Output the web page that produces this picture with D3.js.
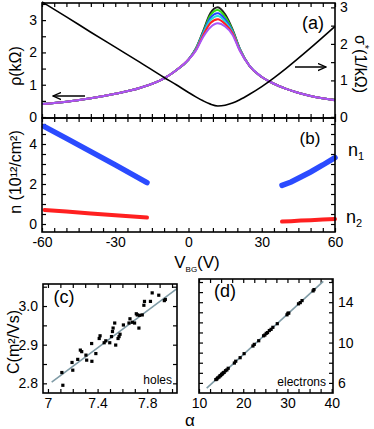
<!DOCTYPE html>
<html>
<head>
<meta charset="utf-8">
<script src="https://cdn.jsdelivr.net/npm/d3@7"></script>
<style>
body { margin: 0; background: #fff; }
svg text { font-family: "Liberation Sans", Arial, sans-serif; fill: #000; }
.axis path { stroke: none; }
.axis line { stroke: #000; stroke-width: 1.2; }
.axis text { font-size: 14px; }
.frame { fill: none; stroke: #000; stroke-width: 1.6; }
</style>
</head>
<body>
<svg id="chart" width="374" height="429"></svg>
<script>
// panel (a): gate voltage grid, sigma* (right axis) and rho curves (left axis)
let vbg = [-60, -50, -40, -30, -20, -10, -5, 0, 3, 6, 9, 12, 15, 18, 21, 25, 30, 35, 40, 50, 60];
let sigma = [3.15, 2.74, 2.32, 1.91, 1.50, 1.08, 0.88, 0.67, 0.55, 0.44, 0.35, 0.30, 0.32, 0.38, 0.47, 0.62, 0.83, 1.07, 1.33, 1.89, 2.48];

let rhoLeftV = [-60, -50, -40, -30, -20, -10, -5, 0];
let rhoLeft = [0.40, 0.47, 0.58, 0.72, 0.90, 1.20, 1.45, 1.78];
let rhoPeakV = [3, 6, 9, 12, 15, 18, 21];
let rhoRightV = [25, 30, 35, 40, 50, 60];
let rhoRight = [1.58, 1.24, 1.03, 0.87, 0.65, 0.52];

let peakBlack = [2.12, 2.66, 3.22, 3.40, 3.18, 2.72, 2.12];
let peakGreen = [2.11, 2.63, 3.15, 3.31, 3.10, 2.69, 2.11];
let peakBlue = [2.10, 2.60, 3.07, 3.21, 3.02, 2.66, 2.10];
let peakCyan = [2.09, 2.57, 3.00, 3.13, 2.95, 2.63, 2.09];
let peakRed = [2.07, 2.53, 2.91, 3.03, 2.88, 2.60, 2.07];
let peakPurple = [2.05, 2.48, 2.78, 2.90, 2.80, 2.55, 2.05];
let rhoColors = ["#222222", "#33dd11", "#2244ff", "#22dddd", "#ff2020", "#a855f7"];

// panel (b): carrier densities
let holeV = [-59, -50, -40, -30, -17];
let holeN1 = [4.87, 4.28, 3.62, 2.96, 2.07];
let holeN2 = [0.70, 0.62, 0.53, 0.44, 0.32];
let elecV = [38.3, 42, 46, 50, 55, 60];
let elecN1 = [1.93, 2.10, 2.35, 2.60, 2.95, 3.32];
let elecN2 = [0.12, 0.14, 0.17, 0.19, 0.22, 0.25];

// panel (c): holes
let alphaH = [7.12, 7.112, 7.194, 7.20, 7.24, 7.261, 7.272, 7.306, 7.312, 7.352, 7.354, 7.386, 7.413, 7.42,
    7.453, 7.466, 7.498, 7.512, 7.52, 7.525, 7.538, 7.546, 7.565, 7.573, 7.581, 7.608, 7.653, 7.661,
    7.68, 7.698, 7.712, 7.72, 7.733, 7.738, 7.76, 7.773, 7.778, 7.826, 7.84, 7.893, 7.938, 7.946];
let cH = [2.795, 2.828, 2.854, 2.834, 2.862, 2.886, 2.882, 2.873, 2.86, 2.903, 2.857, 2.877, 2.916, 2.923,
    2.905, 2.91, 2.905, 2.921, 2.934, 2.943, 2.956, 2.899, 2.916, 2.921, 2.927, 2.951, 2.956, 2.967,
    2.958, 2.956, 2.98, 2.977, 2.943, 2.976, 2.977, 3.002, 3.012, 3.012, 3.034, 3.028, 3.014, 3.017];
let fitHA = [7.03, 8.04];
let fitHC = [2.803, 3.045];

// panel (d): electrons
let alphaE = [13.8, 14.0, 14.2, 14.5, 14.7, 14.9, 15.1, 15.3, 15.5, 15.7, 16.0, 16.3, 16.6, 18.0, 18.3,
    19.3, 20.2, 22.2, 22.5, 23.5, 24.6, 24.9, 25.2, 25.5, 25.9, 26.3, 26.7, 27.7, 29.9, 30.1, 30.3,
    32.5, 32.9, 33.3, 35.8, 36.0];
let cE = [6.33, 6.37, 6.49, 6.57, 6.69, 6.73, 6.85, 6.90, 7.01, 7.05, 7.21, 7.29, 7.45, 7.97, 8.15,
    8.50, 8.90, 9.66, 9.82, 10.18, 10.67, 10.75, 10.91, 10.99, 11.19, 11.31, 11.51, 11.87, 12.75, 12.90, 12.92,
    13.84, 13.96, 14.16, 15.12, 15.25];
let fitEA = [11.74, 38.1];
let fitEC = [5.48, 16.07];

let svg = d3.select("#chart");

function frame(x0, y0, x1, y1) {
    svg.append("rect").attr("class", "frame").attr("x", x0).attr("y", y0)
        .attr("width", x1 - x0).attr("height", y1 - y0);
}

function axis(gen, tx, ty, vals, fmt) {
    let g = svg.append("g").attr("class", "axis").attr("transform", "translate(" + tx + "," + ty + ")");
    g.call(gen.tickValues(vals).tickSize(-4).tickPadding(5).tickFormat(fmt || ""));
    return g;
}

function range(a, b, s) {
    let r = [];
    for (let v = a; v <= b + 1e-9; v += s) {
        r.push(Math.round(v * 1000) / 1000);
    }
    return r;
}

// ---------- panel (a) and (b) share x ----------
let x = d3.scaleLinear().domain([-60, 60]).range([42, 335]);
let yRho = d3.scaleLinear().domain([-0.03, 3.53]).range([118, 3]);
let ySig = d3.scaleLinear().domain([-0.03, 3.12]).range([118, 3]);
let yN = d3.scaleLinear().domain([-0.4, 5.3]).range([232, 118]);

let minorV = range(-60, 60, 5);

// panel (a) axes
axis(d3.axisTop(x), 0, 3, minorV);
axis(d3.axisBottom(x), 0, 118, minorV);
axis(d3.axisLeft(yRho), 42, 0, range(0, 3.5, 0.5), d => d % 1 === 0 ? d : "");
axis(d3.axisRight(ySig), 335, 0, range(0, 3, 0.5), d => d % 1 === 0 ? d : "");

let lineA = d3.line().x(d => x(d[0])).y(d => yRho(d[1])).curve(d3.curveMonotoneX);
let peaks = [peakBlack, peakGreen, peakBlue, peakCyan, peakRed, peakPurple];
peaks.forEach(function(p, i) {
    let pts = d3.zip(rhoLeftV, rhoLeft).concat(d3.zip(rhoPeakV, p)).concat(d3.zip(rhoRightV, rhoRight));
    svg.append("path").attr("d", lineA(pts)).attr("fill", "none")
        .attr("stroke", rhoColors[i]).attr("stroke-width", 2);
});

let lineS = d3.line().x(d => x(d[0])).y(d => ySig(d[1])).curve(d3.curveMonotoneX);
svg.append("path").attr("d", lineS(d3.zip(vbg, sigma))).attr("fill", "none")
    .attr("stroke", "#000").attr("stroke-width", 1.6);

// arrows
svg.append("defs").append("marker").attr("id", "head").attr("viewBox", "0 0 10 10")
    .attr("refX", 9).attr("refY", 5).attr("markerWidth", 9).attr("markerHeight", 9)
    .attr("markerUnits", "userSpaceOnUse").attr("orient", "auto")
    .append("path").attr("d", "M0,1 L9,5 L0,9").attr("fill", "none").attr("stroke", "#000").attr("stroke-width", 1.4);
svg.append("line").attr("x1", 85).attr("y1", 96).attr("x2", 53).attr("y2", 96)
    .attr("stroke", "#000").attr("stroke-width", 1.5).attr("marker-end", "url(#head)");
svg.append("line").attr("x1", 295).attr("y1", 67).attr("x2", 326).attr("y2", 67)
    .attr("stroke", "#000").attr("stroke-width", 1.5).attr("marker-end", "url(#head)");

svg.append("text").attr("x", 313).attr("y", 29).attr("text-anchor", "middle")
    .style("font-size", "18px").text("(a)");

svg.append("text").attr("transform", "translate(21,66) rotate(-90)").attr("text-anchor", "middle")
    .style("font-size", "16px").text("ρ(kΩ)");
let st = svg.append("text").attr("transform", "translate(355,64) rotate(90)").attr("text-anchor", "middle")
    .style("font-size", "16px");
st.append("tspan").text("σ");
st.append("tspan").attr("dy", -6).style("font-size", "11px").text("*");
st.append("tspan").attr("dy", 6).text("(1/kΩ)");

frame(42, 3, 335, 118);

// panel (b)
axis(d3.axisTop(x), 0, 118, minorV);
axis(d3.axisBottom(x), 0, 232, minorV, d => d % 30 === 0 ? d : "");
axis(d3.axisLeft(yN), 42, 0, range(0, 5, 0.5), d => d % 2 === 0 ? d : "");
axis(d3.axisRight(yN), 335, 0, range(0, 5, 0.5));

let lineB = d3.line().x(d => x(d[0])).y(d => yN(d[1]));
[[holeV, holeN1, "#2b4bff", 5.5], [holeV, holeN2, "#ff2020", 4],
 [elecV, elecN1, "#2b4bff", 5.5], [elecV, elecN2, "#ff2020", 4]].forEach(function(s) {
    svg.append("path").attr("d", lineB(d3.zip(s[0], s[1]))).attr("fill", "none")
        .attr("stroke", s[2]).attr("stroke-width", s[3]).attr("stroke-linecap", "round");
});

svg.append("text").attr("x", 310).attr("y", 144).attr("text-anchor", "middle")
    .style("font-size", "17px").text("(b)");
let n1 = svg.append("text").attr("x", 348).attr("y", 156).style("font-size", "18px");
n1.append("tspan").text("n");
n1.append("tspan").attr("dy", 4).style("font-size", "11px").text("1");
let n2 = svg.append("text").attr("x", 346).attr("y", 223).style("font-size", "18px");
n2.append("tspan").text("n");
n2.append("tspan").attr("dy", 4).style("font-size", "11px").text("2");

svg.append("text").attr("transform", "translate(21,172) rotate(-90)").attr("text-anchor", "middle")
    .style("font-size", "16px").text("n (10¹²/cm²)");

let vt = svg.append("text").attr("x", 197).attr("y", 268).attr("text-anchor", "middle").style("font-size", "17px");
vt.append("tspan").text("V");
vt.append("tspan").attr("dy", 4).style("font-size", "8px").text("BG");
vt.append("tspan").attr("dy", -4).text("(V)");

frame(42, 118, 335, 232);

// ---------- panel (c) ----------
let xc = d3.scaleLinear().domain([6.96, 8.04]).range([43, 177]);
let yc = d3.scaleLinear().domain([2.775, 3.057]).range([393, 284]);
axis(d3.axisBottom(xc), 0, 393, range(7, 8, 0.1), d => [7, 7.4, 7.8].some(v => Math.abs(v - d) < 1e-6) ? d : "");
axis(d3.axisTop(xc), 0, 284, range(7, 8, 0.1));
axis(d3.axisLeft(yc), 43, 0, range(2.8, 3.05, 0.05), d => Math.round(d * 100) % 10 === 0 ? d.toFixed(1) : "");
axis(d3.axisRight(yc), 177, 0, range(2.8, 3.05, 0.05));

svg.append("line").attr("x1", xc(fitHA[0])).attr("y1", yc(fitHC[0]))
    .attr("x2", xc(fitHA[1])).attr("y2", yc(fitHC[1]))
    .attr("stroke", "#7f9ba6").attr("stroke-width", 1.6);
svg.append("g").selectAll("rect").data(d3.zip(alphaH, cH)).enter().append("rect")
    .attr("x", d => xc(d[0]) - 1.6).attr("y", d => yc(d[1]) - 1.6)
    .attr("width", 3.2).attr("height", 3.2).attr("fill", "#000");

svg.append("text").attr("x", 64).attr("y", 303).attr("text-anchor", "middle").style("font-size", "18px").text("(c)");
svg.append("text").attr("x", 172).attr("y", 384).attr("text-anchor", "end").style("font-size", "12px").text("holes");
svg.append("text").attr("transform", "translate(19,342) rotate(-90)").attr("text-anchor", "middle")
    .style("font-size", "16px").text("C(m²/Vs)");
frame(43, 284, 177, 393);

// ---------- panel (d) ----------
let xd = d3.scaleLinear().domain([10, 40.3]).range([199, 333]);
let yd = d3.scaleLinear().domain([5.0, 16.3]).range([393, 279]);
axis(d3.axisBottom(xd), 0, 393, range(10, 40, 2.5), d => d % 10 === 0 ? d : "");
axis(d3.axisTop(xd), 0, 279, range(10, 40, 2.5));
axis(d3.axisLeft(yd), 199, 0, range(6, 16, 1));
axis(d3.axisRight(yd), 333, 0, range(6, 16, 1), d => (d - 6) % 4 === 0 ? d : "");

svg.append("line").attr("x1", xd(fitEA[0])).attr("y1", yd(fitEC[0]))
    .attr("x2", xd(fitEA[1])).attr("y2", yd(fitEC[1]))
    .attr("stroke", "#7f9ba6").attr("stroke-width", 1.6);
svg.append("g").selectAll("rect").data(d3.zip(alphaE, cE)).enter().append("rect")
    .attr("x", d => xd(d[0]) - 1.6).attr("y", d => yd(d[1]) - 1.6)
    .attr("width", 3.2).attr("height", 3.2).attr("fill", "#000");

svg.append("text").attr("x", 225).attr("y", 297).attr("text-anchor", "middle").style("font-size", "18px").text("(d)");
svg.append("text").attr("x", 326).attr("y", 386).attr("text-anchor", "end").style("font-size", "12px").text("electrons");
frame(199, 279, 333, 393);

svg.append("text").attr("x", 190).attr("y", 426).attr("text-anchor", "middle").style("font-size", "17px").text("α");
</script>
</body>
</html>
